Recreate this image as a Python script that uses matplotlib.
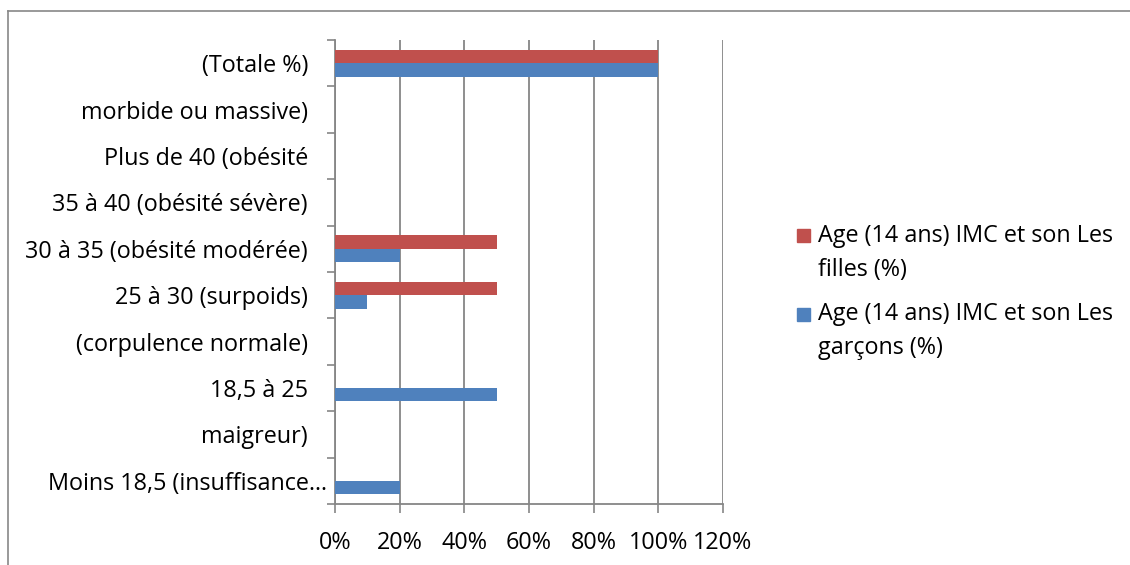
import matplotlib
matplotlib.use("Agg")
import matplotlib.pyplot as plt
from matplotlib.patches import Rectangle
from matplotlib.lines import Line2D
from matplotlib.ticker import FixedLocator, FuncFormatter
import matplotlib.transforms as mtransforms
import numpy as np

plt.rcParams['font.family'] = ['Open Sans', 'DejaVu Sans']

# Category rows, bottom to top
categories = [
    "Moins 18,5 (insuffisance…",
    "maigreur)",
    "18,5 à 25",
    "(corpulence normale)",
    "25 à 30 (surpoids)",
    "30 à 35 (obésité modérée)",
    "35 à 40 (obésité sévère)",
    "Plus de 40 (obésité",
    "morbide ou massive)",
    "(Totale %)",
]
garcons = [20, 0, 50, 0, 10, 20, 0, 0, 0, 100]
filles = [0, 0, 0, 0, 50, 50, 0, 0, 0, 100]
xticks = [0, 20, 40, 60, 80, 100, 120]

label_filles = "Age (14 ans) IMC et son Les\nfilles (%)"
label_garcons = "Age (14 ans) IMC et son Les\ngarçons (%)"

blue = "#4F81BD"
red = "#C0504D"
grid_col = "#868686"
fs = 16.8

W, H = 1130, 565
fig = plt.figure(figsize=(W / 100, H / 100), dpi=100)
px = lambda v: v * 72 / 100  # pixels -> points

# chart frame (left and top edges)
fig.lines.append(Line2D([8 / W, 8 / W], [0, 1 - 11 / H], transform=fig.transFigure,
                        color="#888888", linewidth=1.2))
fig.lines.append(Line2D([8 / W, 1], [1 - 11 / H, 1 - 11 / H], transform=fig.transFigure,
                        color="#888888", linewidth=1.2))

left, right, top, bottom = 335 / W, 723 / W, 1 - 40 / H, 1 - 504 / H
ax = fig.add_axes([left, bottom, right - left, top - bottom])

y = np.arange(len(categories))
bh = 0.29
ax.barh(y - bh / 2, garcons, height=bh, color=blue, zorder=3)
ax.barh(y + bh / 2, filles, height=bh, color=red, zorder=3)

ax.set_xlim(0, 120)
ax.set_ylim(-0.5, len(categories) - 0.5)

ax.set_xticks(xticks)
ax.xaxis.set_major_formatter(FuncFormatter(lambda v, p: f"{v:.0f}%"))
ax.tick_params(axis="x", length=px(9), width=1.2, color=grid_col, labelsize=fs, pad=px(18))
ax.grid(axis="x", color=grid_col, linewidth=1.3, zorder=0)

ax.set_yticks(y)
ax.set_yticklabels(categories)
ax.yaxis.set_minor_locator(FixedLocator(np.arange(-0.5, len(categories), 1.0)))
ax.tick_params(axis="y", which="major", length=0, labelsize=fs, pad=px(27))
ax.tick_params(axis="y", which="minor", length=px(8), width=1.2, color=grid_col)

for s in ["top", "right"]:
    ax.spines[s].set_visible(False)
for s in ["left", "bottom"]:
    ax.spines[s].set_color(grid_col)
    ax.spines[s].set_linewidth(1.3)

# truncated first label sits closer to the axis
lab0 = ax.get_yticklabels()[0]
lab0.set_transform(lab0.get_transform() + mtransforms.ScaledTranslation(19 / 100, 0, fig.dpi_scale_trans))

# legend
sq = 13
for ytop, col, txt in [(229, red, label_filles), (308, blue, label_garcons)]:
    fig.patches.append(Rectangle((797 / W, 1 - (ytop + sq) / H), sq / W, sq / H,
                                 transform=fig.transFigure, color=col))
    for i, line in enumerate(txt.split("\n")):
        fig.text(818 / W, 1 - (ytop + sq / 2 + 34 * i) / H, line, fontsize=fs,
                 va="center", ha="left")

fig.savefig("out.png", dpi=100)
